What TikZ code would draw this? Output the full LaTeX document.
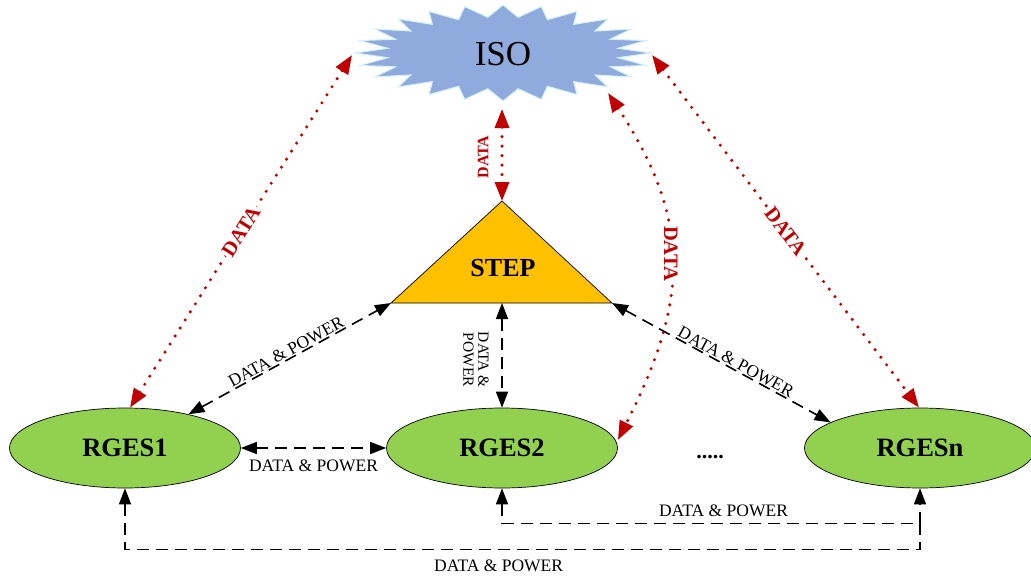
\documentclass[tikz,border=0pt]{standalone}
\usepackage{fontspec}
\setmainfont{Liberation Serif}
\usetikzlibrary{arrows.meta,calc,shapes.geometric}
\definecolor{isoblue}{HTML}{8FAADC}
\definecolor{isoedge}{HTML}{D2F1FA}
\definecolor{stepyellow}{HTML}{FFC000}
\definecolor{rgesgreen}{HTML}{92D050}
\definecolor{datared}{HTML}{C00000}
\begin{document}
\begin{tikzpicture}[x=1pt,y=-1pt,
  rges/.style={ellipse, draw=black, line width=0.7pt, fill=rgesgreen, minimum width=231pt, minimum height=80pt, font=\fontsize{26.5}{26.5}\selectfont\bfseries, inner sep=0pt},
  datalink/.style={datared, line width=3.4pt, line cap=round, dash pattern=on 0pt off 9.5pt, {Triangle[length=19pt,width=14pt]}-{Triangle[length=19pt,width=14pt]}},
  datalbl/.style={text=datared, font=\fontsize{20.5}{20.5}\selectfont\bfseries, fill=white, inner sep=1.5pt},
  powerline/.style={black, line width=1.6pt, dash pattern=on 12pt off 7pt},
  powerlink/.style={powerline, {Triangle[length=16pt,width=12pt]}-{Triangle[length=16pt,width=12pt]}},
  powerlbl/.style={font=\fontsize{17.5}{17.5}\selectfont, inner sep=0pt},
]
\useasboundingbox (0,0) rectangle (1031,578);
\fill[white] (0,0) rectangle (1031,578);

% ISO starburst
\begin{scope}[shift={(503,53)}]
\filldraw[fill=isoblue, draw=isoedge, line width=1pt] (148,0)
  \foreach \k [evaluate=\k as \rx using {mod(\k,2)==0 ? 148 : 116},
               evaluate=\k as \ry using {mod(\k,2)==0 ? 48 : 36}] in {1,...,47}
  { -- ({\rx*cos(\k*7.5)},{\ry*sin(\k*7.5)}) } -- cycle;
\end{scope}
\node[font=\fontsize{35}{35}\selectfont, inner sep=0pt] (iso) at (503,54) {ISO};

% STEP triangle
\coordinate (stT) at (502,201);
\coordinate (stL) at (391,303);
\coordinate (stR) at (612,303);
\coordinate (stB) at (502,303);
\filldraw[fill=stepyellow, draw=black, line width=0.7pt] (stT) -- (stL) -- (stR) -- cycle;
\node[font=\fontsize{26}{26}\selectfont\bfseries, inner sep=0pt] (step) at (503,268) {STEP};

% RGES ellipses
\node[rges] (r1) at (125,448) {RGES1};
\node[rges] (r2) at (502,448) {RGES2};
\node[rges] (rn) at (920,448) {RGESn};
\node[font=\fontsize{22}{22}\selectfont\bfseries, anchor=base, inner sep=0pt] (dots) at (710,458) {.....};

% ISO end points
\coordinate (isoA) at (352,55);
\coordinate (isoB) at (502,109);
\coordinate (isoC) at (608,93);
\coordinate (isoD) at (652,55);

% red DATA links
\draw[datalink] ([xshift=5pt]r1.north) -- node[datalbl, sloped, pos=0.5] (lblA) {DATA} (isoA);
\draw[datalink] (isoB) -- (stT);
\node[text=datared, font=\fontsize{16}{16}\selectfont\bfseries, rotate=90, inner sep=0pt] (lblB) at (483,157) {DATA};
\draw[datalink] (isoC) .. controls (696,226) and (685,307) .. ([yshift=8pt]r2.east)
  node[datalbl, pos=0.46, rotate=-90] (lblC) {DATA};
\draw[datalink] (isoD) -- node[datalbl, sloped, pos=0.5] (lblD) {DATA} ([xshift=-1pt]rn.north);

% black DATA & POWER links
\draw[powerlink] (r1.28) -- node[powerlbl, sloped, anchor=south, yshift=1pt] (lblE) {DATA \& POWER} (stL);
\draw[powerlink] (stR) -- node[powerlbl, sloped, anchor=south, pos=0.55, yshift=1pt] (lblF) {DATA \& POWER} (rn.164);
\draw[powerlink] (stB) -- (r2.north);
\node[powerlbl, rotate=-90, align=center, font=\fontsize{15.5}{15}\selectfont] (lblG) at (476,360) {DATA \&\\POWER};
\draw[powerlink] (r1.east) -- node[powerlbl, anchor=north, yshift=-11pt] (lblH) {DATA \& POWER} (r2.west);

\draw[powerlink] (r2.south) -- ++(0,35) coordinate (c1)
  -- node[powerlbl, anchor=south, yshift=6pt, pos=0.53] (lblI) {DATA \& POWER} (c1 -| rn.south) -- (rn.south);
\draw[powerline, {Triangle[length=16pt,width=12pt]}-] (r1.south) -- ++(0,61) coordinate (c2)
  -- node[powerlbl, anchor=north, yshift=-10pt, pos=0.47] (lblJ) {DATA \& POWER} (c2 -| rn.south) -- (c1 -| rn.south);
\end{tikzpicture}
\end{document}
